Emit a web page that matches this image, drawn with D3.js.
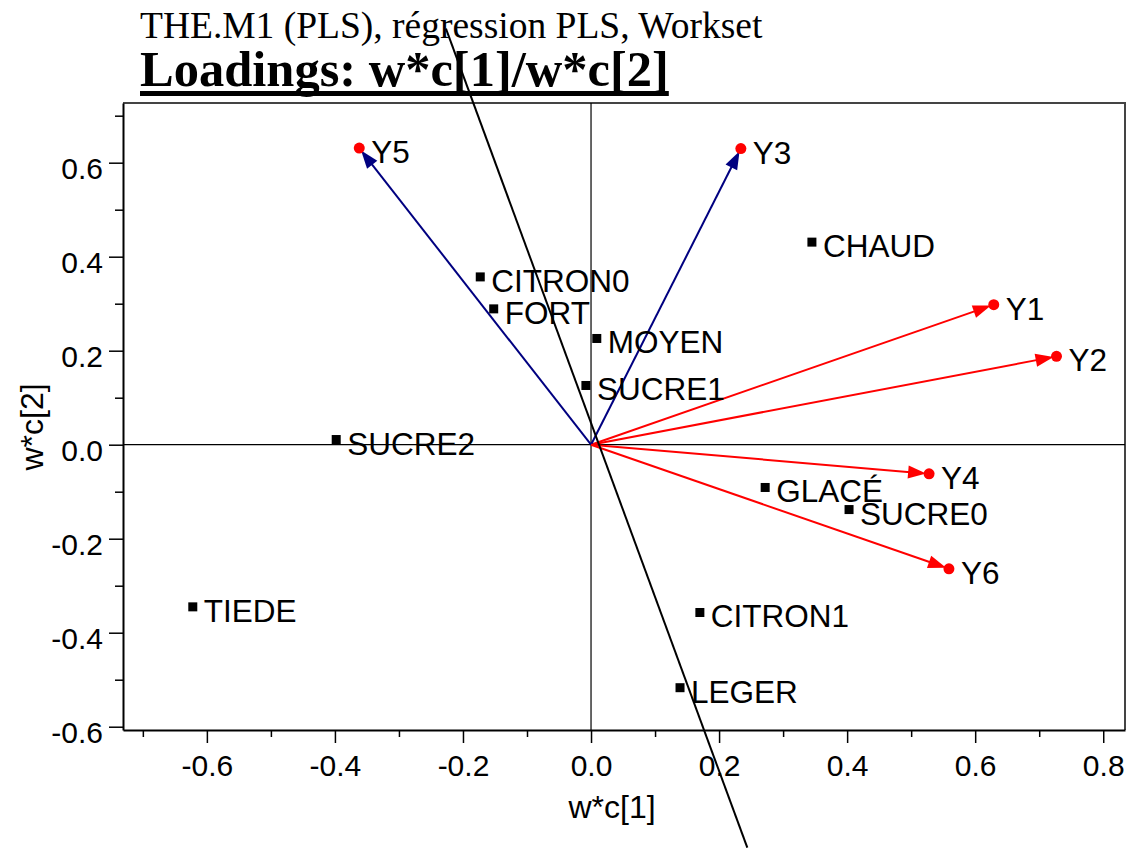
<!DOCTYPE html>
<html>
<head>
<meta charset="utf-8">
<script src="https://cdn.jsdelivr.net/npm/d3@7/dist/d3.min.js"></script>
<style>
  html, body { margin: 0; padding: 0; background: #fff; }
  svg { display: block; }
</style>
</head>
<body>
<svg id="chart" width="1130" height="848"></svg>
<script>
// X-variable loadings (black squares)
const xNames = ["CITRON0", "FORT", "MOYEN", "SUCRE1", "SUCRE2", "CHAUD", "TIEDE", "GLACÉ", "SUCRE0", "CITRON1", "LEGER"];
const xWc1   = [-0.173, -0.152, 0.009, -0.008, -0.398, 0.345, -0.622, 0.272, 0.403, 0.170, 0.139];
const xWc2   = [0.357, 0.289, 0.226, 0.126, 0.011, 0.431, -0.345, -0.091, -0.138, -0.357, -0.517];

// Y-variable loadings (red dots with arrows from the origin)
const yNames  = ["Y1", "Y2", "Y3", "Y4", "Y5", "Y6"];
const yWc1    = [0.629, 0.727, 0.234, 0.528, -0.362, 0.559];
const yWc2    = [0.298, 0.188, 0.630, -0.062, 0.631, -0.264];
const yArrowColor = ["#ff0000", "#ff0000", "#000080", "#ff0000", "#000080", "#ff0000"];

// Axis ticks
const xMajorTicks = [-0.6, -0.4, -0.2, 0.0, 0.2, 0.4, 0.6, 0.8];
const xMinorTicks = [-0.7, -0.5, -0.3, -0.1, 0.1, 0.3, 0.5, 0.7];
const yMajorTicks = [-0.6, -0.4, -0.2, 0.0, 0.2, 0.4, 0.6];
const yMinorTicks = [-0.5, -0.3, -0.1, 0.1, 0.3, 0.5, 0.7];

// Oblique reference line (two end points, data units)
const refLineWc1 = [-0.2266, 0.2441];
const refLineWc2 = [0.8851, -0.8574];

const titleText = "THE.M1 (PLS), régression PLS, Workset";
const subtitleText = "Loadings: w*c[1]/w*c[2]";
const xTitle = "w*c[1]";
const yTitle = "w*c[2]";

const svg = d3.select("#chart");
const plot = { left: 123, right: 1125, top: 103, bottom: 730 };

const x = d3.scaleLinear().domain([-0.731, 0.834]).range([plot.left, plot.right]);
const y = d3.scaleLinear().domain([-0.607, 0.727]).range([plot.bottom, plot.top]);

const sans = "'Liberation Sans', Arial, sans-serif";
const serif = "'Liberation Serif', 'Times New Roman', serif";
const fmt = d => d.toFixed(1);

// Frame: top and right borders
svg.append("path")
  .attr("d", `M${plot.left},${plot.top}H${plot.right}V${plot.bottom}`)
  .attr("fill", "none").attr("stroke", "#444").attr("stroke-width", 2);

// Zero lines
svg.append("line")
  .attr("x1", x(0)).attr("x2", x(0)).attr("y1", plot.top).attr("y2", plot.bottom)
  .attr("stroke", "#000").attr("stroke-width", 1.2);
svg.append("line")
  .attr("x1", plot.left).attr("x2", plot.right).attr("y1", y(0)).attr("y2", y(0))
  .attr("stroke", "#000").attr("stroke-width", 1.2);

// X axis
const gx = svg.append("g").attr("transform", `translate(0,${plot.bottom})`);
gx.call(d3.axisBottom(x).tickValues(xMajorTicks).tickSize(13).tickPadding(12).tickFormat(fmt).tickSizeOuter(0));
gx.append("g").call(d3.axisBottom(x).tickValues(xMinorTicks).tickSize(7).tickFormat("").tickSizeOuter(0))
  .select(".domain").remove();
gx.selectAll("text").attr("font-family", sans).attr("font-size", 30).attr("fill", "#000");
gx.selectAll("path.domain").attr("stroke", "#000").attr("stroke-width", 2);
gx.selectAll("line").attr("stroke", "#000").attr("stroke-width", 1.5);

// Y axis
const gy = svg.append("g").attr("transform", `translate(${plot.left},0)`);
gy.call(d3.axisLeft(y).tickValues(yMajorTicks).tickSize(14).tickPadding(6).tickFormat(fmt).tickSizeOuter(0));
gy.append("g").call(d3.axisLeft(y).tickValues(yMinorTicks).tickSize(8).tickFormat("").tickSizeOuter(0))
  .select(".domain").remove();
gy.selectAll("text").attr("font-family", sans).attr("font-size", 30).attr("fill", "#000").attr("dy", "0.52em");
gy.selectAll("path.domain").attr("stroke", "#000").attr("stroke-width", 2);
gy.selectAll("line").attr("stroke", "#000").attr("stroke-width", 1.5);

// Axis titles
svg.append("text").attr("x", 612).attr("y", 818).attr("text-anchor", "middle")
  .attr("font-family", sans).attr("font-size", 32).text(xTitle);
svg.append("text").attr("transform", `translate(43,427) rotate(-90)`).attr("text-anchor", "middle")
  .attr("font-family", sans).attr("font-size", 32).text(yTitle);

// Arrows from the origin to each Y loading
const yData = yNames.map((n, i) => ({ name: n, a: yWc1[i], b: yWc2[i], color: yArrowColor[i] }));
const ox = x(0), oy = y(0);
const arrows = svg.append("g");
yData.forEach(d => {
  const px = x(d.a), py = y(d.b);
  const dx = px - ox, dy = py - oy, len = Math.hypot(dx, dy);
  const ux = dx / len, uy = dy / len;
  const tipX = px - ux * 3, tipY = py - uy * 3;
  const headLen = 18, headW = 6.5;
  const baseX = tipX - ux * headLen, baseY = tipY - uy * headLen;
  arrows.append("line")
    .attr("x1", ox).attr("y1", oy).attr("x2", baseX + ux * 2).attr("y2", baseY + uy * 2)
    .attr("stroke", d.color).attr("stroke-width", 2);
  arrows.append("path")
    .attr("d", `M${tipX},${tipY}L${baseX - uy * headW},${baseY + ux * headW}L${baseX + uy * headW},${baseY - ux * headW}Z`)
    .attr("fill", d.color);
});

// Y loading points
svg.append("g").selectAll("circle").data(yData).join("circle")
  .attr("cx", d => x(d.a)).attr("cy", d => y(d.b)).attr("r", 5.5).attr("fill", "#ff0000");
svg.append("g").selectAll("text").data(yData).join("text")
  .attr("x", d => x(d.a) + 12).attr("y", d => y(d.b) + 15)
  .attr("font-family", sans).attr("font-size", 31.5).text(d => d.name);

// X loading points
const xData = xNames.map((n, i) => ({ name: n, a: xWc1[i], b: xWc2[i] }));
svg.append("g").selectAll("rect").data(xData).join("rect")
  .attr("x", d => x(d.a) - 4.5).attr("y", d => y(d.b) - 4.5).attr("width", 9).attr("height", 9)
  .attr("fill", "#000");
svg.append("g").selectAll("text").data(xData).join("text")
  .attr("x", d => x(d.a) + 11).attr("y", d => y(d.b) + 15)
  .attr("font-family", sans).attr("font-size", 31.5).text(d => d.name);

// Titles
svg.append("text").attr("x", 140).attr("y", 38)
  .attr("font-family", serif).attr("font-size", 37.5).text(titleText);
const sub = svg.append("text").attr("x", 140).attr("y", 86)
  .attr("font-family", serif).attr("font-weight", "bold").attr("font-size", 50.5).text(subtitleText);
const subW = sub.node().getComputedTextLength();
svg.append("rect").attr("x", 140).attr("y", 91).attr("width", subW).attr("height", 5).attr("fill", "#000");

// Oblique reference line drawn across the whole figure
svg.append("line")
  .attr("x1", x(refLineWc1[0])).attr("y1", y(refLineWc2[0]))
  .attr("x2", x(refLineWc1[1])).attr("y2", y(refLineWc2[1]))
  .attr("stroke", "#000").attr("stroke-width", 2);
</script>
</body>
</html>
